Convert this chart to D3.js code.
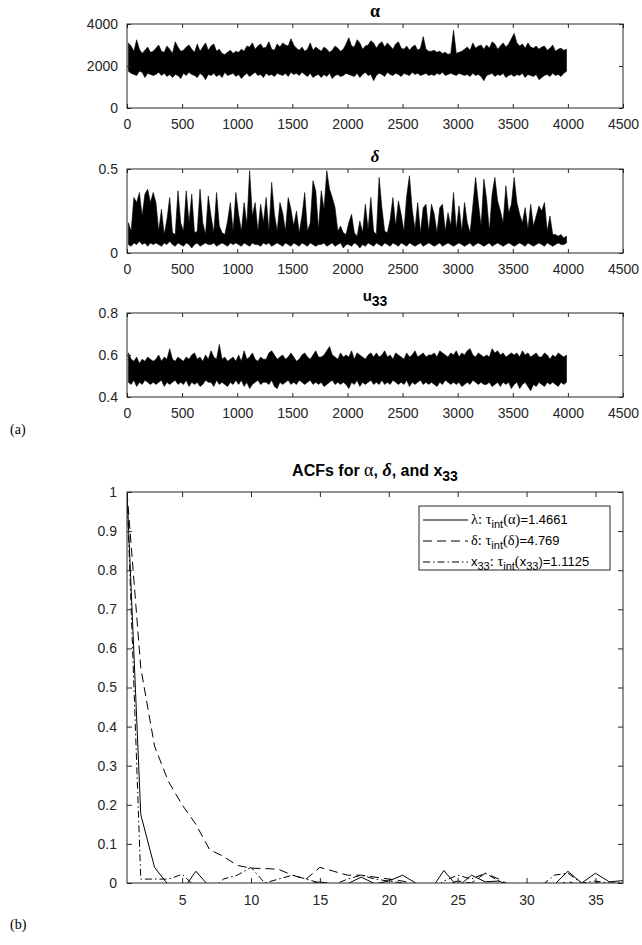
<!DOCTYPE html>
<html lang="en">
<head>
<meta charset="utf-8">
<title>MCMC traces and ACFs</title>
<style type="text/css">
    body { margin: 0; background: white; }
    svg { font-family: "Liberation Sans", Arial, sans-serif; }
    .tick text { font-size: 14px; fill: #262626; }
</style>
<script type="text/javascript" src="https://d3js.org/d3.v7.min.js"></script>
</head>
<body>
<script type="text/javascript">
// trace envelopes: max and min of each 25-iteration bin (iterations 0..4000)
let alphaMax = [
    3100,2950,2700,3250,2800,2600,2750,2900,2650,2700,
    2850,3000,2700,2650,2950,2800,2600,3150,2900,2700,
    2750,2900,3000,2800,2650,3050,2700,2900,3100,2750,
    2950,3050,2700,2800,2600,2550,2650,2750,2600,2700,
    2650,2800,2700,2950,2900,3100,2800,2950,3050,2850,
    2900,3150,2800,2750,3050,2900,3100,3000,2950,3300,
    3000,2850,2750,2900,2700,2800,3100,2750,2900,2800,
    2700,2900,2800,2650,2750,2950,2850,2700,2800,3050,
    3350,2950,2900,3250,3100,2800,2950,3000,3200,3100,
    2850,3050,3150,2900,3100,2950,2800,3050,3150,2850,
    2800,2950,2750,2900,3000,2750,2850,3400,2800,2700,
    2700,2750,2650,2700,2600,2650,2550,2600,3700,2600,
    2650,2700,2800,2900,2750,3100,2850,2950,3000,2800,
    3000,2850,3150,3050,2800,2950,3100,2900,3050,3300,
    3550,3100,2950,3050,2850,3100,2900,2850,2950,2800,
    2900,2950,2750,2850,3000,2700,2800,2850,2750,2800
];
let alphaMin = [
    1750,1650,1600,1550,1750,1700,1450,1650,1600,1550,
    1600,1700,1550,1650,1500,1600,1450,1600,1550,1400,
    1650,1550,1700,1600,1550,1450,1650,1550,1350,1600,
    1550,1650,1500,1600,1450,1700,1550,1600,1650,1500,
    1600,1400,1550,1650,1500,1600,1700,1550,1600,1450,
    1650,1550,1600,1500,1650,1600,1550,1650,1500,1700,
    1600,1650,1550,1700,1600,1500,1650,1450,1550,1600,
    1450,1600,1500,1650,1400,1550,1600,1500,1550,1650,
    1600,1550,1500,1650,1450,1600,1700,1550,1600,1300,
    1550,1650,1600,1500,1700,1600,1550,1650,1600,1500,
    1650,1600,1550,1700,1600,1650,1550,1600,1650,1550,
    1600,1550,1650,1600,1700,1550,1600,1650,1600,1550,
    1650,1600,1550,1600,1500,1650,1550,1600,1500,1300,
    1550,1600,1650,1500,1600,1550,1650,1450,1550,1600,
    1500,1600,1550,1650,1450,1600,1550,1500,1600,1350,
    1450,1550,1600,1500,1650,1550,1600,1500,1650,1750
];
let deltaMax = [
    0.18,0.13,0.33,0.30,0.36,0.22,0.35,0.38,0.30,0.36,
    0.30,0.13,0.26,0.11,0.20,0.33,0.12,0.11,0.37,0.18,
    0.13,0.37,0.18,0.35,0.12,0.13,0.38,0.18,0.11,0.34,
    0.22,0.12,0.36,0.16,0.12,0.11,0.19,0.30,0.13,0.36,
    0.23,0.13,0.30,0.17,0.49,0.22,0.30,0.13,0.29,0.18,
    0.33,0.13,0.42,0.23,0.13,0.30,0.24,0.13,0.33,0.26,
    0.16,0.25,0.12,0.22,0.36,0.13,0.18,0.43,0.37,0.14,
    0.37,0.26,0.49,0.38,0.33,0.27,0.13,0.16,0.12,0.11,
    0.18,0.23,0.12,0.10,0.19,0.12,0.29,0.14,0.33,0.13,
    0.11,0.45,0.27,0.13,0.12,0.20,0.33,0.16,0.31,0.23,
    0.13,0.34,0.46,0.26,0.14,0.30,0.12,0.27,0.29,0.13,
    0.29,0.23,0.12,0.27,0.29,0.13,0.24,0.16,0.36,0.14,
    0.28,0.13,0.30,0.18,0.12,0.28,0.45,0.30,0.16,0.44,
    0.32,0.13,0.35,0.45,0.31,0.25,0.18,0.40,0.24,0.29,
    0.45,0.30,0.23,0.18,0.27,0.14,0.29,0.16,0.22,0.28,
    0.25,0.30,0.13,0.22,0.11,0.11,0.10,0.11,0.09,0.10
];
let deltaMin = [
    0.05,0.04,0.06,0.05,0.07,0.05,0.06,0.04,0.06,0.05,
    0.06,0.05,0.04,0.06,0.05,0.07,0.05,0.04,0.06,0.05,
    0.04,0.06,0.05,0.03,0.05,0.06,0.04,0.05,0.06,0.05,
    0.05,0.06,0.04,0.05,0.06,0.05,0.04,0.06,0.05,0.06,
    0.05,0.04,0.06,0.05,0.04,0.06,0.05,0.05,0.04,0.06,
    0.05,0.06,0.04,0.05,0.06,0.05,0.04,0.06,0.05,0.04,
    0.06,0.05,0.04,0.06,0.05,0.04,0.06,0.05,0.04,0.05,
    0.05,0.06,0.04,0.05,0.06,0.04,0.05,0.06,0.03,0.05,
    0.05,0.04,0.06,0.05,0.03,0.05,0.04,0.06,0.05,0.04,
    0.06,0.05,0.04,0.06,0.05,0.04,0.06,0.05,0.04,0.06,
    0.05,0.04,0.06,0.05,0.04,0.05,0.06,0.04,0.05,0.06,
    0.05,0.04,0.05,0.06,0.04,0.05,0.06,0.05,0.04,0.05,
    0.06,0.05,0.04,0.05,0.06,0.04,0.05,0.06,0.05,0.04,
    0.05,0.06,0.04,0.05,0.06,0.05,0.04,0.05,0.06,0.05,
    0.04,0.05,0.06,0.05,0.04,0.06,0.05,0.04,0.05,0.06,
    0.05,0.04,0.06,0.05,0.04,0.05,0.06,0.05,0.05,0.06
];
let u33Max = [
    0.61,0.58,0.57,0.59,0.56,0.58,0.57,0.59,0.58,0.57,
    0.58,0.60,0.57,0.59,0.58,0.63,0.58,0.57,0.59,0.58,
    0.57,0.59,0.58,0.60,0.61,0.58,0.59,0.57,0.60,0.58,
    0.62,0.59,0.58,0.65,0.58,0.59,0.57,0.58,0.59,0.57,
    0.60,0.57,0.62,0.58,0.59,0.61,0.58,0.57,0.59,0.58,
    0.58,0.61,0.62,0.60,0.58,0.59,0.60,0.58,0.59,0.61,
    0.59,0.57,0.58,0.60,0.61,0.59,0.58,0.60,0.62,0.59,
    0.59,0.60,0.62,0.64,0.60,0.59,0.58,0.61,0.59,0.60,
    0.59,0.62,0.58,0.61,0.60,0.59,0.58,0.60,0.61,0.59,
    0.61,0.59,0.60,0.62,0.59,0.60,0.58,0.61,0.60,0.59,
    0.58,0.61,0.59,0.60,0.62,0.59,0.60,0.61,0.59,0.60,
    0.60,0.61,0.59,0.62,0.61,0.60,0.59,0.61,0.60,0.62,
    0.59,0.61,0.60,0.62,0.63,0.60,0.59,0.61,0.60,0.59,
    0.60,0.59,0.63,0.61,0.62,0.60,0.61,0.59,0.60,0.61,
    0.60,0.61,0.59,0.62,0.60,0.61,0.59,0.60,0.61,0.59,
    0.59,0.61,0.60,0.58,0.60,0.59,0.61,0.60,0.59,0.60
];
let u33Min = [
    0.47,0.46,0.48,0.45,0.47,0.46,0.48,0.47,0.46,0.47,
    0.46,0.47,0.48,0.45,0.47,0.46,0.47,0.48,0.46,0.47,
    0.46,0.48,0.45,0.47,0.46,0.47,0.45,0.46,0.48,0.47,
    0.47,0.45,0.48,0.46,0.47,0.46,0.45,0.47,0.46,0.48,
    0.46,0.48,0.45,0.47,0.44,0.46,0.47,0.48,0.46,0.47,
    0.47,0.46,0.48,0.45,0.44,0.47,0.46,0.47,0.48,0.46,
    0.47,0.46,0.48,0.47,0.46,0.47,0.48,0.46,0.47,0.46,
    0.47,0.45,0.46,0.47,0.48,0.46,0.47,0.46,0.47,0.46,
    0.44,0.47,0.46,0.48,0.45,0.47,0.46,0.47,0.48,0.46,
    0.47,0.46,0.48,0.46,0.47,0.46,0.48,0.47,0.46,0.47,
    0.46,0.48,0.45,0.47,0.46,0.47,0.48,0.46,0.47,0.46,
    0.47,0.46,0.45,0.47,0.46,0.48,0.47,0.46,0.47,0.46,
    0.47,0.45,0.46,0.47,0.46,0.48,0.47,0.46,0.47,0.46,
    0.46,0.47,0.45,0.46,0.47,0.45,0.47,0.46,0.47,0.44,
    0.46,0.47,0.44,0.46,0.47,0.45,0.43,0.46,0.45,0.47,
    0.46,0.45,0.47,0.46,0.47,0.46,0.45,0.47,0.46,0.47
];
let binSize = 25;
let iterTicks = [0, 500, 1000, 1500, 2000, 2500, 3000, 3500, 4000, 4500];

// ACFs, lags 1..37
let lags = d3.range(1, 38);
let acfAlpha = [1, 0.175, 0.04, -0.005, -0.02, 0.03, -0.01, -0.02, -0.01, -0.02,
    -0.015, -0.01, -0.02, -0.005, 0.003, -0.003, -0.002, 0.015, -0.002, 0.005,
    0.02, -0.001, -0.02, 0.032, -0.01, 0.02, 0.003, 0.005, -0.01, -0.02,
    -0.03, -0.005, 0.03, 0.0, 0.025, 0.003, 0.006];
let acfDelta = [1, 0.55, 0.35, 0.26, 0.2, 0.15, 0.085, 0.068, 0.045, 0.038,
    0.037, 0.035, 0.02, 0.01, 0.04, 0.03, 0.02, 0.02, 0.015, 0.01,
    0.005, -0.005, -0.01, -0.005, 0.005, 0.0, 0.025, 0.01, -0.01, -0.02,
    -0.02, -0.01, 0.005, -0.01, 0.003, -0.01, -0.01];
let acfX33 = [1, 0.01, 0.01, 0.01, 0.022, -0.01, -0.02, 0.01, 0.02, 0.04,
    0.0, 0.01, 0.02, 0.01, 0.0, -0.005, 0.01, 0.02, 0.01, 0.005,
    0.0, -0.01, -0.02, 0.005, 0.02, 0.01, 0.025, 0.005, -0.01, -0.02,
    -0.01, 0.02, 0.025, 0.0, 0.005, 0.0, 0.0];
let acfYTicks = d3.range(0, 1.01, 0.1);
let acfXTicks = [5, 10, 15, 20, 25, 30, 35];

let w = 642, h = 945;
let svg = d3.select("body").append("svg")
    .attr("width", w)
    .attr("height", h)
    .style("background-color", "white");

let left = 127, right = 623;
let axisColor = "#262626";

// box with inward ticks on all four sides
function drawFrame(g, x, y, xTicks, yTicks, xFmt, yFmt, tickLen) {
    let x0 = x.range()[0], x1 = x.range()[1];
    let y0 = y.range()[0], y1 = y.range()[1];
    g.append("g").attr("transform", "translate(0," + y0 + ")")
        .call(d3.axisBottom(x).tickValues(xTicks).tickSizeInner(-tickLen).tickSizeOuter(0).tickPadding(7 + tickLen).tickFormat(xFmt))
        .call(a => a.select(".domain").remove());
    g.append("g").attr("transform", "translate(0," + y1 + ")")
        .call(d3.axisTop(x).tickValues(xTicks).tickSizeInner(-tickLen).tickSizeOuter(0).tickFormat(""))
        .call(a => a.select(".domain").remove());
    g.append("g").attr("transform", "translate(" + x0 + ",0)")
        .call(d3.axisLeft(y).tickValues(yTicks).tickSizeInner(-tickLen).tickSizeOuter(0).tickPadding(5 + tickLen).tickFormat(yFmt))
        .call(a => a.select(".domain").remove());
    g.append("g").attr("transform", "translate(" + x1 + ",0)")
        .call(d3.axisRight(y).tickValues(yTicks).tickSizeInner(-tickLen).tickSizeOuter(0).tickFormat(""))
        .call(a => a.select(".domain").remove());
    g.selectAll(".tick line").attr("stroke", axisColor);
    g.append("rect")
        .attr("x", x0).attr("y", y1)
        .attr("width", x1 - x0).attr("height", y0 - y1)
        .attr("fill", "none").attr("stroke", axisColor).attr("stroke-width", 1);
}

let panels = [
    { hi: alphaMax, lo: alphaMin, top: 24, bottom: 108, domain: [0, 4000], ticks: [0, 2000, 4000], fmt: d3.format("d"), title: "alpha" },
    { hi: deltaMax, lo: deltaMin, top: 169, bottom: 253, domain: [0, 0.5], ticks: [0, 0.5], fmt: d => d === 0 ? "0" : d3.format(".1f")(d), title: "delta" },
    { hi: u33Max, lo: u33Min, top: 313, bottom: 397, domain: [0.4, 0.8], ticks: [0.4, 0.6, 0.8], fmt: d3.format(".1f"), title: "u33" }
];

let xIter = d3.scaleLinear().domain([0, 4500]).range([left, right]);

panels.forEach(function (p) {
    let g = svg.append("g");
    let y = d3.scaleLinear().domain(p.domain).range([p.bottom, p.top]);
    let band = d3.area()
        .x((d, i) => xIter(i * binSize + binSize / 2))
        .y0((d, i) => y(p.lo[i]))
        .y1(d => y(d));
    g.append("path")
        .datum(p.hi)
        .attr("d", band)
        .attr("fill", "black")
        .attr("stroke", "black")
        .attr("stroke-width", 0.6);
    drawFrame(g, xIter, y, iterTicks, p.ticks, d3.format("d"), p.fmt, 4);

    let t = g.append("text")
        .attr("x", (left + right) / 2)
        .attr("y", p.top - 7)
        .attr("text-anchor", "middle")
        .attr("font-weight", "bold")
        .attr("font-size", "15px");
    if (p.title === "alpha") {
        t.append("tspan").attr("font-family", "Liberation Serif").attr("font-size", "18px").text("α");
    } else if (p.title === "delta") {
        t.append("tspan").attr("font-family", "Liberation Serif").attr("font-style", "italic").attr("font-size", "17px").text("δ");
    } else {
        t.attr("y", p.top - 12);
        t.append("tspan").text("u");
        t.append("tspan").attr("dy", 5).attr("font-size", "14px").text("33");
    }
});

svg.append("text")
    .attr("x", 10).attr("y", 434)
    .attr("font-family", "Liberation Serif")
    .attr("font-size", "14px")
    .text("(a)");

// ACF panel
let acfTop = 492, acfBottom = 883;
let xLag = d3.scaleLinear().domain([1, 37]).range([left, right]);
let yAcf = d3.scaleLinear().domain([0, 1]).range([acfBottom, acfTop]);

let gAcf = svg.append("g");
svg.append("clipPath").attr("id", "acfClip")
    .append("rect")
    .attr("x", left).attr("y", acfTop)
    .attr("width", right - left).attr("height", acfBottom - acfTop);

let series = [
    { values: acfAlpha, dash: null },
    { values: acfDelta, dash: "9,5" },
    { values: acfX33, dash: "7,3,1.5,3" }
];

let acfLine = d3.line()
    .x((d, i) => xLag(lags[i]))
    .y(d => yAcf(d));

gAcf.selectAll("path.acf")
    .data(series)
    .enter()
    .append("path")
    .attr("class", "acf")
    .attr("clip-path", "url(#acfClip)")
    .attr("d", d => acfLine(d.values))
    .attr("fill", "none")
    .attr("stroke", "black")
    .attr("stroke-width", 1)
    .attr("stroke-dasharray", d => d.dash);

drawFrame(gAcf, xLag, yAcf, acfXTicks, acfYTicks, d3.format("d"),
    d => Math.abs(d) < 1e-9 ? "0" : (Math.abs(d - 1) < 1e-9 ? "1" : d3.format(".1f")(d)), 5);

// ACF title
let acfTitle = svg.append("text")
    .attr("x", (left + right) / 2)
    .attr("y", 476)
    .attr("text-anchor", "middle")
    .attr("font-weight", "bold")
    .attr("font-size", "16px");
acfTitle.append("tspan").text("ACFs for  ");
acfTitle.append("tspan").attr("font-family", "Liberation Serif").attr("font-weight", "normal").attr("font-size", "18px").text("α");
acfTitle.append("tspan").text(", ");
acfTitle.append("tspan").attr("font-family", "Liberation Serif").attr("font-style", "italic").attr("font-size", "18px").text("δ");
acfTitle.append("tspan").text(", and x");
acfTitle.append("tspan").attr("dy", 5).attr("font-size", "14px").text("33");

// legend
let legX = 419, legY = 506, legW = 191, legH = 64;
let legend = svg.append("g");
legend.append("rect")
    .attr("x", legX).attr("y", legY)
    .attr("width", legW).attr("height", legH)
    .attr("fill", "white").attr("stroke", axisColor).attr("stroke-width", 1);

let legendRows = [
    { dash: null, parts: [["λ: τ", "serif"], ["int", "sub"], ["(α)", "serif"], ["=1.4661", "sans"]] },
    { dash: "9,5", parts: [["δ: τ", "serif"], ["int", "sub"], ["(δ)", "serif"], ["=4.769", "sans"]] },
    { dash: "7,3,1.5,3", parts: [["x", "sans"], ["33", "sub"], [": τ", "serif"], ["int", "sub"], ["(", "serif"], ["x", "sans"], ["33", "sub"], [")=1.1125", "sans"]] }
];

legendRows.forEach(function (r, i) {
    let cy = legY + 14 + i * 21;
    legend.append("line")
        .attr("x1", legX + 4).attr("x2", legX + 49)
        .attr("y1", cy).attr("y2", cy)
        .attr("stroke", "black").attr("stroke-width", 1)
        .attr("stroke-dasharray", r.dash);
    let t = legend.append("text")
        .attr("x", legX + 52).attr("y", cy + 4)
        .attr("font-size", "13px")
        .attr("fill", "black");
    let sub = false;
    r.parts.forEach(function (p) {
        let s = t.append("tspan").text(p[0]);
        let dy = 0;
        if (p[1] === "sub") { if (!sub) dy = 4; sub = true; s.attr("font-size", "11px"); }
        else { if (sub) dy = -4; sub = false; }
        if (dy) s.attr("dy", dy);
        if (p[1] === "serif") s.attr("font-family", "Liberation Serif").attr("font-size", "14.5px");
    });
});

svg.append("text")
    .attr("x", 10).attr("y", 929)
    .attr("font-family", "Liberation Serif")
    .attr("font-size", "14px")
    .text("(b)");
</script>
</body>
</html>
